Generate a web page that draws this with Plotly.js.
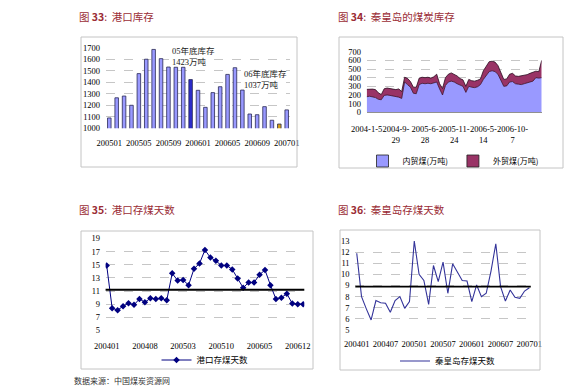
<!DOCTYPE html>
<html><head><meta charset="utf-8">
<script src="https://cdn.plot.ly/plotly-3.0.1.min.js"></script>
<style>body{margin:0;padding:0;background:#fff}#c{width:588px;height:386px}</style>
</head><body><div id="c"></div>
<script>
// ---- Chart 33: 港口库存 ----
const months33 = ['200501','200502','200503','200504','200505','200506','200507','200508','200509','200510','200511','200512','200601','200602','200603','200604','200605','200606','200607','200608','200609','200610','200611','200612','200701'];
const stock33 = [1090,1265,1280,1200,1475,1600,1685,1605,1532,1530,1530,1423,1330,1182,1310,1361,1468,1526,1332,1124,1118,1188,1070,1037,1160];
const ticks33 = ['200501','200505','200509','200601','200605','200609','200701'];
const hl05 = '200512', hl06 = '200612';

// ---- Chart 34: 秦皇岛的煤炭库存 ----
const domestic34 = [180,185,178,170,150,145,195,200,195,190,185,175,160,350,320,290,220,215,320,335,330,335,330,340,350,270,200,310,350,360,350,330,310,300,230,300,290,285,295,320,380,430,470,480,470,440,360,300,305,350,355,330,325,320,330,340,350,360,400,395,400];
const total34 = [265,270,268,262,225,205,272,280,275,272,262,270,240,405,392,355,290,290,395,405,400,405,395,410,440,330,275,400,440,455,440,420,390,375,300,380,365,360,370,385,480,540,585,590,580,540,460,380,385,440,450,420,415,420,430,435,450,460,475,470,600];
const ticks34 = ['2004-1-5','2004-9-<br>29','2005-6-<br>28','2005-11-<br>24','2006-5-<br>14','2006-10-<br>7'];
const tickPos34 = [0,10,20,30,40,50];
const names34 = ['内贸煤(万吨)','外贸煤(万吨)'];

// ---- Chart 35: 港口存煤天数 ----
const months35 = ['200401','200402','200403','200404','200405','200406','200407','200408','200409','200410','200411','200412','200501','200502','200503','200504','200505','200506','200507','200508','200509','200510','200511','200512','200601','200602','200603','200604','200605','200606','200607','200608','200609','200610','200611','200612','200701'];
const days35 = [14.9,8.4,8.1,8.7,9.15,8.9,9.8,9.3,9.9,9.8,9.9,9.6,13.7,12.6,12.7,11.9,14.4,15.2,17.25,16.1,15.6,14.9,14.9,14.3,12.9,11.5,12.3,12.3,13.5,14.2,11.9,9.8,10.0,10.6,9.1,9.0,9.0];
const ticks35 = ['200401','200408','200503','200510','200605','200612'];
const avg35 = 11.2;

// ---- Chart 36: 秦皇岛存煤天数 ----
const months36 = ['200401','200402','200403','200404','200405','200406','200407','200408','200409','200410','200411','200412','200501','200502','200503','200504','200505','200506','200507','200508','200509','200510','200511','200512','200601','200602','200603','200604','200605','200606','200607','200608','200609','200610','200611','200612','200701'];
const days36 = [11.9,8.0,6.9,5.9,7.65,7.45,7.4,6.6,7.65,8.0,6.95,7.55,13.0,10.0,9.45,7.3,10.8,9.35,11.1,8.3,10.95,10.25,9.45,9.4,7.55,9.05,8.0,8.3,10.3,12.75,8.9,7.6,8.6,7.95,7.85,8.5,8.8];
const ticks36 = ['200401','200407','200501','200507','200601','200607','200701'];
const avg36 = 8.9;

const W = 588, H = 386;
const px = v => v / W, py = v => 1 - v / H;
const serif = '"Liberation Serif","Times New Roman","Noto Sans CJK SC",serif';
const cjk = '"Noto Sans CJK SC","Liberation Serif",sans-serif';
const tickFont = {family: serif, size: 8.5, color: '#000'};
const titleColor = '#9B2D36';
const gridC = '#a0a0a0';
const c34 = ['#9999ff', '#993366'];

const barColors = months33.map(m => m === hl05 ? '#2c2ccc' : (m === hl06 ? '#d4a017' : '#9999ff'));

const idx34 = domestic34.map((_, i) => i);
const foreign34 = total34.map((t, i) => t - domestic34[i]);

const traces = [
  {type: 'bar', x: months33, y: stock33, xaxis: 'x', yaxis: 'y', width: 0.48,
   marker: {color: barColors, line: {color: '#2a2a55', width: 0.8}}, showlegend: false},
  {type: 'scatter', mode: 'lines', x: idx34, y: domestic34, xaxis: 'x2', yaxis: 'y2', stackgroup: 'one',
   name: names34[0], fillcolor: c34[0], line: {color: '#3a1030', width: 0.8}, showlegend: false},
  {type: 'scatter', mode: 'lines', x: idx34, y: foreign34, xaxis: 'x2', yaxis: 'y2', stackgroup: 'one',
   name: names34[1], fillcolor: c34[1], line: {color: '#2a0a20', width: 0.8}, showlegend: false},
  // legend proxies (square swatches like the original)
  {type: 'bar', x: [null], y: [null], xaxis: 'x2', yaxis: 'y2', name: names34[0], marker: {color: c34[0], line: {color: '#222', width: 0.8}}, legend: 'legend2'},
  {type: 'bar', x: [null], y: [null], xaxis: 'x2', yaxis: 'y2', name: names34[1], marker: {color: c34[1], line: {color: '#222', width: 0.8}}, legend: 'legend2'},
  {type: 'scatter', mode: 'lines+markers', x: months35, y: days35, xaxis: 'x3', yaxis: 'y3',
   name: '港口存煤天数', line: {color: '#000080', width: 1}, marker: {symbol: 'diamond', size: 5, color: '#000080'}, legend: 'legend3'},
  {type: 'scatter', mode: 'lines', x: months36, y: days36, xaxis: 'x4', yaxis: 'y4',
   name: '秦皇岛存煤天数', line: {color: '#333399', width: 1.1}, legend: 'legend4'}
];

const baseX = {showgrid: false, zeroline: false, tickfont: tickFont, ticks: 'outside', tickcolor: 'rgba(0,0,0,0)', tickangle: 0, fixedrange: true};
const baseY = {showgrid: true, gridcolor: gridC, griddash: 'dash', gridwidth: 0.6, zeroline: false, tickfont: tickFont, ticks: 'outside', ticklen: 3, tickcolor: 'rgba(0,0,0,0)', fixedrange: true};

const layout = {
  width: W, height: H, margin: {l: 0, r: 0, t: 0, b: 0}, paper_bgcolor: '#fff', plot_bgcolor: 'rgba(0,0,0,0)',
  font: {family: serif, size: 8.5, color: '#000'},
  xaxis: Object.assign({}, baseX, {domain: [px(105.6), px(290.4)], anchor: 'y', type: 'category', range: [-0.5, 24.5], tickvals: ticks33, ticktext: ticks33, ticklen: 6, showline: false}),
  yaxis: Object.assign({}, baseY, {domain: [py(128.3), py(47.7)], anchor: 'x', range: [1000, 1700], dtick: 100}),
  xaxis2: Object.assign({}, baseX, {domain: [px(366.7), px(541.7)], anchor: 'y2', type: 'linear', range: [0, 60], tickvals: tickPos34, ticktext: ticks34, ticklen: 8, showline: true, linecolor: '#909090', linewidth: 1, mirror: false}),
  yaxis2: Object.assign({}, baseY, {domain: [py(112.3), py(51.7)], anchor: 'x2', range: [0, 700], dtick: 100}),
  xaxis3: Object.assign({}, baseX, {domain: [px(105.6), px(304.3)], anchor: 'y3', type: 'category', range: [-0.2, 36.2], tickvals: ticks35, ticktext: ticks35, ticklen: 7}),
  yaxis3: Object.assign({}, baseY, {domain: [py(330.5), py(238.5)], anchor: 'x3', range: [5, 19], tick0: 5, dtick: 2}),
  xaxis4: Object.assign({}, baseX, {domain: [px(355.3), px(530.8)], anchor: 'y4', type: 'category', range: [-0.3, 36.3], tickvals: ticks36, ticktext: ticks36, ticklen: 6}),
  yaxis4: Object.assign({}, baseY, {domain: [py(330), py(241)], anchor: 'x4', range: [5, 13], dtick: 1}),
  legend2: {orientation: 'h', traceorder: 'normal', x: px(453), xanchor: 'center', y: py(161), yanchor: 'middle', font: {family: cjk, size: 8}, bgcolor: 'rgba(0,0,0,0)', itemwidth: 30},
  legend3: {orientation: 'h', x: px(205), xanchor: 'center', y: py(360), yanchor: 'middle', font: {family: cjk, size: 8.5}, bgcolor: 'rgba(0,0,0,0)'},
  legend4: {orientation: 'h', x: px(448), xanchor: 'center', y: py(361), yanchor: 'middle', font: {family: cjk, size: 8.5}, bgcolor: 'rgba(0,0,0,0)'},
  shapes: [
    {type: 'rect', xref: 'paper', yref: 'paper', x0: px(81), x1: px(297), y0: py(167), y1: py(37), line: {color: '#c4c4c4', width: 1}},
    {type: 'rect', xref: 'paper', yref: 'paper', x0: px(339), x1: px(563), y0: py(168), y1: py(37), line: {color: '#c4c4c4', width: 1}},
    {type: 'rect', xref: 'paper', yref: 'paper', x0: px(81), x1: px(313), y0: py(369), y1: py(231), line: {color: '#c4c4c4', width: 1}},
    {type: 'rect', xref: 'paper', yref: 'paper', x0: px(340), x1: px(540), y0: py(370), y1: py(230), line: {color: '#c4c4c4', width: 1}},
    {type: 'line', xref: 'x3 domain', yref: 'y3', x0: 0, x1: 1, y0: avg35, y1: avg35, line: {color: '#000', width: 1.8}},
    {type: 'line', xref: 'x4 domain', yref: 'y4', x0: 0, x1: 1, y0: avg36, y1: avg36, line: {color: '#000', width: 1.8}}
  ],
  annotations: [
    {xref: 'paper', yref: 'paper', x: px(77), y: py(16), xanchor: 'left', yanchor: 'middle', showarrow: false, text: '图 <b>33</b>:  港口库存', font: {family: cjk, size: 10.5, color: titleColor}},
    {xref: 'paper', yref: 'paper', x: px(336), y: py(16), xanchor: 'left', yanchor: 'middle', showarrow: false, text: '图 <b>34</b>:  秦皇岛的煤炭库存', font: {family: cjk, size: 10.5, color: titleColor}},
    {xref: 'paper', yref: 'paper', x: px(77), y: py(209), xanchor: 'left', yanchor: 'middle', showarrow: false, text: '图 <b>35</b>:  港口存煤天数', font: {family: cjk, size: 10.5, color: titleColor}},
    {xref: 'paper', yref: 'paper', x: px(336), y: py(209), xanchor: 'left', yanchor: 'middle', showarrow: false, text: '图 <b>36</b>:  秦皇岛存煤天数', font: {family: cjk, size: 10.5, color: titleColor}},
    {xref: 'paper', yref: 'paper', x: px(170), y: py(57), xanchor: 'left', yanchor: 'middle', showarrow: false, align: 'left', text: '05年底库存<br>1423万吨', font: {family: serif, size: 8.5, color: '#222'}},
    {xref: 'paper', yref: 'paper', x: px(242), y: py(79), xanchor: 'left', yanchor: 'middle', showarrow: false, align: 'left', text: '06年底库存<br>1037万吨', font: {family: serif, size: 8.5, color: '#222'}},
    {xref: 'paper', yref: 'paper', x: px(72), y: py(380), xanchor: 'left', yanchor: 'middle', showarrow: false, text: '数据来源：中国煤炭资源网', font: {family: cjk, size: 8, color: '#333'}}
  ]
};

Plotly.newPlot('c', traces, layout, {staticPlot: true, displayModeBar: false});
</script></body></html>
